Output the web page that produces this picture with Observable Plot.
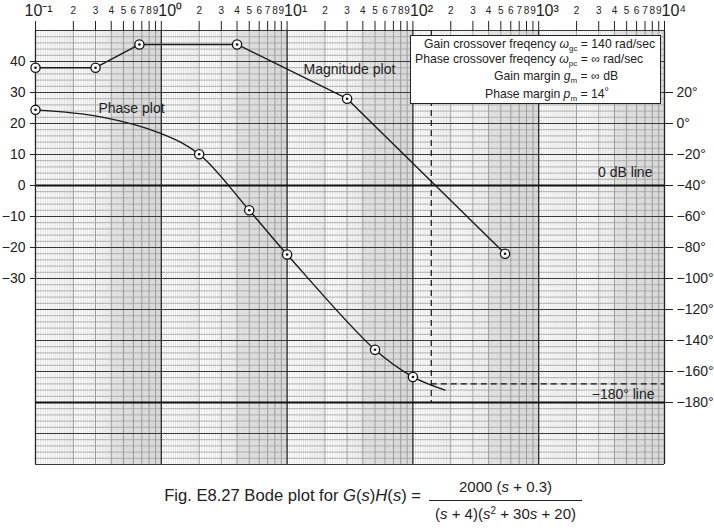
<!DOCTYPE html>
<html><head><meta charset="utf-8">
<script src="https://cdn.jsdelivr.net/npm/d3@7"></script>
<script src="https://cdn.jsdelivr.net/npm/@observablehq/plot@0.6"></script>
<style>
body{margin:0;background:#fff;font-family:"Liberation Sans",Arial,sans-serif;color:#222;}
#wrap{position:relative;width:714px;height:528px;overflow:hidden;}
#legend{position:absolute;left:410px;top:35px;width:249px;height:67px;background:#fff;border:1px solid #222;font-size:12.2px;}
#legend .ln{position:absolute;white-space:nowrap;line-height:14px;}
sub{font-size:8px;vertical-align:-3px;line-height:0;}
sup{font-size:10px;vertical-align:5px;line-height:0;}
.cap{position:absolute;font-size:15px;white-space:nowrap;line-height:18px;}
</style>
</head><body>
<div id="wrap">
  <div id="chart"></div>
  <div id="legend">
    <div class="ln" style="left:13px;top:1px">Gain crossover freqency <i>ω</i><sub>gc</sub> = 140 rad/sec</div>
    <div class="ln" style="left:4px;top:16px">Phase crossover freqency <i>ω</i><sub>pc</sub> = ∞ rad/sec</div>
    <div class="ln" style="left:83px;top:33px">Gain margin <i>g</i><sub>m</sub> = ∞ dB</div>
    <div class="ln" style="left:74px;top:51px">Phase margin <i>p</i><sub>m</sub> = 14<span style="font-size:11px;position:relative;top:-3px">°</span></div>
  </div>
  <div class="cap" style="right:293px;top:487px;font-size:16.6px">Fig. E8.27 Bode plot for <i>G</i>(<i>s</i>)<i>H</i>(<i>s</i>) =</div>
  <div class="cap" style="left:429px;width:153px;text-align:center;top:478px">2000 (<i>s</i> + 0.3)</div>
  <div style="position:absolute;left:429px;top:500px;width:153px;border-top:1px solid #222"></div>
  <div class="cap" style="left:429px;width:153px;text-align:center;top:505px">(<i>s</i> + 4)(<i>s</i><sup>2</sup> + 30<i>s</i> + 20)</div>
</div>
<script>
// ---- data ----
const magW   = [0.1, 0.3, 0.67, 4, 30, 540];          // rad/sec
const magDb  = [38, 38, 45.5, 45.5, 28, -22];          // dB
const phaseMarkW   = [0.1, 2, 5, 10, 50, 100];
const phaseMarkDeg = [8.8, -19.8, -56, -84.5, -146, -163.5];
const phaseCurveW   = [0.1, 0.33, 1, 2, 5, 10, 50, 100, 180];
const phaseCurveDeg = [8.8, 4.3, -6.5, -19.8, -56, -84.5, -146, -163.5, -172];
const wgc = 140;            // gain crossover frequency
const pmLineDeg = -168;     // phase at crossover (dashed)
const dbTicks  = [40, 30, 20, 10, 0, -10, -20, -30];
const degTicks = [20, 0, -20, -40, -60, -80, -100, -120, -140, -160, -180];
const decades  = [-1, 0, 1, 2, 3, 4];
const minorMultipliers = [2, 3, 4, 5, 6, 7, 8, 9];
const decLabels = ["10⁻¹", "10⁰", "10¹", "10²", "10³", "10⁴"];
const labelText = ["Magnitude plot", "Phase plot", "0 dB line", "−180° line"];
const labelW    = [31.3, 0.58, 4870, 4690];
const labelDb   = [37.5, 24.9, 4.3, -67.3];

// phase (deg) shares the dB axis: 0 dB ↔ −40°, 10 dB ↔ 20°
const degToDb = d => (d + 40) / 2;
const minus = v => (v < 0 ? "−" : "") + Math.abs(v);

const mag = magW.map((w, i) => ({w, y: magDb[i]}));
const phMarks = phaseMarkW.map((w, i) => ({w, y: degToDb(phaseMarkDeg[i])}));
const phCurve = phaseCurveW.map((w, i) => ({w, y: degToDb(phaseCurveDeg[i])}));
const labels = labelText.map((t, i) => ({t, w: labelW[i], y: labelDb[i]}));

// graph-paper grid
const fineV = [], intV = [], bands = [];
const decV = decades.map(k => 10 ** k);
for (const k of decades.slice(0, -1)) {
  const b = 10 ** k;
  for (let i = 21; i < 40; i++) fineV.push(b * i / 20);
  for (let i = 21; i < 100; i++) if (i % 10) fineV.push(b * i / 10);
  for (const m of minorMultipliers) intV.push({w: b * m, m});
  bands.push({x1: 4 * b, x2: 10 * b});
}
const minorH = d3.range(-90, 51, 2).filter(v => v % 10);
const majorH = d3.range(-90, 51, 10);
const heavyH = [0, degToDb(-180)];
const decTicks = decV.map((w, i) => ({w, t: decLabels[i]}));

const chart = Plot.plot({
  width: 714, height: 470,
  marginTop: 30, marginBottom: 6, marginLeft: 35, marginRight: 50,
  x: {type: "log", domain: [0.1, 10000]},
  y: {domain: [-90, 50]},
  style: {fontFamily: '"Liberation Sans", Arial, sans-serif', color: "#222", background: "#fff"},
  marks: [
    Plot.rect(bands, {x1: "x1", x2: "x2", fill: "#ebebeb"}),
    Plot.ruleX(fineV, {stroke: "#d6d6d6", strokeWidth: 0.7}),
    Plot.ruleY(minorH, {stroke: "#a8a8a8", strokeWidth: 0.9}),
    Plot.ruleX(intV, {x: "w", stroke: "#9a9a9a", strokeWidth: 1}),
    Plot.ruleY(majorH, {stroke: "#3a3a3a", strokeWidth: 1.1}),
    Plot.ruleX(decV, {stroke: "#222", strokeWidth: 1.3}),
    Plot.ruleY(heavyH, {stroke: "#111", strokeWidth: 2}),
    // dashed construction lines
    Plot.ruleX([wgc], {y1: 50, y2: degToDb(-180), stroke: "#111", strokeWidth: 1.2, strokeDasharray: "6,4"}),
    Plot.ruleY([degToDb(pmLineDeg)], {x1: wgc, x2: 10000, stroke: "#111", strokeWidth: 1.2, strokeDasharray: "6,4"}),
    // data
    Plot.line(mag, {x: "w", y: "y", stroke: "#1a1a1a", strokeWidth: 1.4}),
    Plot.line(phCurve, {x: "w", y: "y", stroke: "#1a1a1a", strokeWidth: 1.4, curve: "catmull-rom"}),
    Plot.dot(mag.concat(phMarks), {x: "w", y: "y", r: 4.6, fill: "#fff", stroke: "#111", strokeWidth: 1.3}),
    Plot.dot(mag.concat(phMarks), {x: "w", y: "y", r: 1.3, fill: "#111", stroke: null}),
    Plot.text(labels, {x: "w", y: "y", text: "t", fontSize: 14, fill: "#222"}),
    // top log axis
    Plot.axisX(intV.map(d => d.w).concat(decV), {anchor: "top", tickSize: 10, tickFormat: () => "", label: null}),
    Plot.text(intV, {x: "w", text: d => String(d.m), frameAnchor: "top", lineAnchor: "middle", dy: -20, fontSize: 10, fill: "#222"}),
    Plot.text(decTicks.slice(1), {x: "w", text: "t", frameAnchor: "top", lineAnchor: "middle", dy: -20, dx: -3, fontSize: 16, textAnchor: "start", fill: "#222"}),
    Plot.text(decTicks.slice(0, 1), {x: "w", text: "t", frameAnchor: "top", lineAnchor: "middle", dy: -20, dx: -11, fontSize: 16, textAnchor: "start", fill: "#222"}),
    // dB (left) and degree (right) axes
    Plot.axisY(dbTicks, {anchor: "left", tickSize: 5, tickPadding: 5, fontSize: 14, tickFormat: minus, label: null}),
    Plot.axisY(degTicks.map(degToDb), {anchor: "right", tickSize: 8, tickPadding: 4, fontSize: 14, tickFormat: v => minus(2 * v - 40) + "°", label: null})
  ]
});
document.getElementById("chart").appendChild(chart);
</script>
</body></html>
